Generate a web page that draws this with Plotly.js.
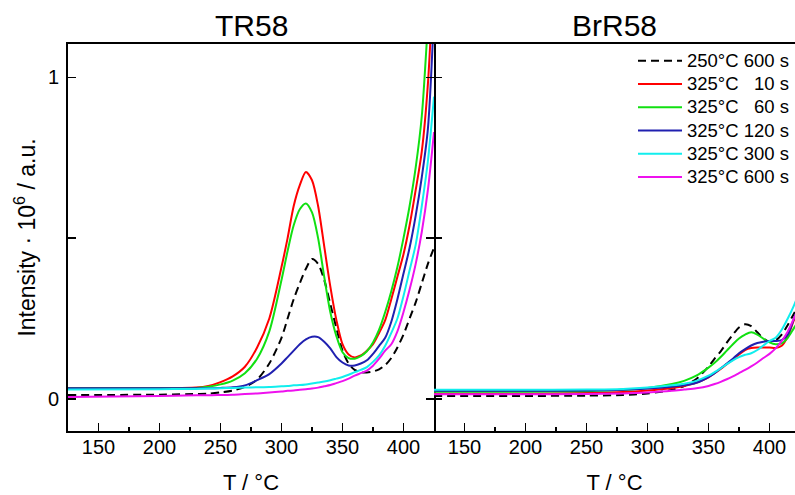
<!DOCTYPE html>
<html>
<head>
<meta charset="utf-8">
<script src="https://cdn.plot.ly/plotly-3.0.1.min.js"></script>
<style>html,body{margin:0;padding:0;background:#fff;}#chart{width:795px;height:495px;}</style>
</head>
<body>
<div id="chart"></div>
<script>
// ---- Data ----
var panelTitles = ['TR58', 'BrR58'];
var seriesNames = ['250°C 600 s', '325°C \u200710 s', '325°C \u200760 s', '325°C 120 s', '325°C 300 s', '325°C 600 s'];
var seriesColors = ['#000000', '#ff0000', '#11e011', '#2020b0', '#11eeee', '#ee11ee'];

// TR58 panel: temperature grid (°C) and intensities (10^6 a.u.)
var T_TR58 = [125,200,230,240,250,260,270,280,290,300,305,310,315,320,325,330,335,340,345,350,355,360,365,370,375,380,385,390,395,400,405,410,415,420,425];
var TR58_250_600 = [0.012,0.013,0.015,0.016,0.020,0.026,0.037,0.060,0.110,0.190,0.250,0.310,0.360,0.405,0.435,0.420,0.370,0.295,0.220,0.150,0.110,0.090,0.083,0.082,0.085,0.092,0.105,0.127,0.160,0.200,0.250,0.300,0.360,0.420,0.470];
var TR58_325_10  = [0.033,0.033,0.035,0.040,0.052,0.070,0.100,0.160,0.250,0.410,0.500,0.600,0.665,0.706,0.680,0.600,0.475,0.350,0.245,0.170,0.138,0.129,0.135,0.150,0.170,0.205,0.245,0.310,0.380,0.450,0.540,0.650,0.770,0.980,1.350];
var TR58_325_60  = [0.033,0.033,0.034,0.038,0.045,0.057,0.080,0.125,0.210,0.370,0.460,0.540,0.590,0.608,0.580,0.500,0.380,0.270,0.195,0.145,0.127,0.125,0.133,0.148,0.175,0.215,0.270,0.335,0.410,0.500,0.600,0.720,0.880,1.170,1.500];
var TR58_325_120 = [0.033,0.033,0.033,0.033,0.034,0.036,0.042,0.058,0.077,0.110,0.130,0.150,0.170,0.185,0.193,0.192,0.178,0.157,0.130,0.113,0.104,0.104,0.110,0.120,0.140,0.165,0.190,0.240,0.310,0.390,0.470,0.570,0.690,0.840,1.200];
var TR58_325_300 = [0.029,0.030,0.031,0.032,0.033,0.034,0.035,0.036,0.037,0.039,0.040,0.042,0.043,0.045,0.048,0.051,0.054,0.058,0.063,0.068,0.075,0.083,0.090,0.099,0.115,0.135,0.165,0.205,0.250,0.320,0.400,0.480,0.600,0.740,0.940];
var TR58_325_600 = [0.006,0.009,0.011,0.011,0.012,0.013,0.015,0.017,0.020,0.023,0.025,0.026,0.028,0.030,0.032,0.035,0.039,0.043,0.049,0.055,0.063,0.072,0.080,0.088,0.103,0.125,0.150,0.170,0.210,0.270,0.340,0.420,0.520,0.650,0.830];

// BrR58 panel
var T_BrR58 = [125,200,250,280,300,320,330,340,350,355,360,365,370,375,380,385,390,395,400,405,410,415,420,425];
var BrR58_250_600 = [0.009,0.009,0.010,0.012,0.017,0.028,0.040,0.062,0.100,0.125,0.148,0.175,0.200,0.222,0.232,0.226,0.207,0.188,0.178,0.182,0.200,0.230,0.265,0.300];
var BrR58_325_10  = [0.016,0.016,0.018,0.021,0.026,0.034,0.040,0.050,0.067,0.080,0.093,0.108,0.122,0.138,0.152,0.158,0.160,0.160,0.160,0.158,0.165,0.195,0.245,0.290];
var BrR58_325_60  = [0.022,0.022,0.024,0.028,0.034,0.046,0.056,0.072,0.097,0.112,0.130,0.150,0.170,0.188,0.200,0.207,0.200,0.187,0.176,0.170,0.173,0.190,0.220,0.250];
var BrR58_325_120 = [0.025,0.025,0.026,0.028,0.032,0.038,0.042,0.050,0.068,0.080,0.095,0.110,0.125,0.142,0.155,0.166,0.174,0.178,0.180,0.180,0.183,0.200,0.250,0.300];
var BrR58_325_300 = [0.028,0.028,0.029,0.031,0.035,0.042,0.047,0.056,0.072,0.083,0.095,0.108,0.120,0.130,0.137,0.142,0.152,0.166,0.180,0.190,0.215,0.250,0.290,0.340];
var BrR58_325_600 = [0.014,0.014,0.015,0.017,0.020,0.025,0.029,0.033,0.040,0.046,0.053,0.061,0.070,0.080,0.090,0.101,0.113,0.127,0.140,0.157,0.180,0.210,0.250,0.290];

var xTickVals = [150, 200, 250, 300, 350, 400];
var yTickVals = [0, 1];

// ---- Build traces ----
var leftSeries = [TR58_250_600, TR58_325_10, TR58_325_60, TR58_325_120, TR58_325_300, TR58_325_600];
var rightSeries = [BrR58_250_600, BrR58_325_10, BrR58_325_60, BrR58_325_120, BrR58_325_300, BrR58_325_600];
var traces = [];
function lineStyle(i) {
  return {color: seriesColors[i], width: 2, shape: 'spline', smoothing: 0.8, dash: i === 0 ? '8px,5px' : 'solid'};
}
leftSeries.forEach(function (ys, i) {
  traces.push({
    x: T_TR58, y: ys, xaxis: 'x', yaxis: 'y', type: 'scatter', mode: 'lines',
    name: '<span style="font-size:18.5px">' + seriesNames[i] + '</span>', showlegend: true,
    line: lineStyle(i), hoverinfo: 'skip'
  });
});
rightSeries.forEach(function (ys, i) {
  traces.push({
    x: T_BrR58, y: ys, xaxis: 'x2', yaxis: 'y2', type: 'scatter', mode: 'lines',
    name: seriesNames[i], showlegend: false,
    line: lineStyle(i), hoverinfo: 'skip'
  });
});

var W = 795, H = 495;
var splitX = 434 / W, leftX = 68 / W;
var fontFam = '"Liberation Sans", Arial, Helvetica, sans-serif';

function xAxis(dom, range, anchor) {
  return {
    domain: dom, range: range, anchor: anchor,
    tickvals: xTickVals, ticks: 'inside', ticklen: 8, tickwidth: 1.5, tickcolor: '#000',
    minor: {dtick: 25, tick0: 0, ticks: 'inside', ticklen: 4, tickwidth: 1.5, tickcolor: '#000', showgrid: false},
    showline: true, linewidth: 2, linecolor: '#000', mirror: true,
    showgrid: false, zeroline: false,
    tickfont: {size: 20, color: '#000', family: fontFam},
    ticklabelstandoff: -3,
    title: {text: 'T / °C', font: {size: 22, color: '#000', family: fontFam}, standoff: 25},
    automargin: false
  };
}

var layout = {
  width: W, height: H,
  margin: {l: 0, r: 0, t: 44, b: 64},
  paper_bgcolor: '#fff', plot_bgcolor: '#fff',
  font: {family: fontFam, color: '#000'},
  showlegend: true,
  legend: {
    x: 1, xanchor: 'right', y: 1.0, yanchor: 'top',
    bgcolor: 'rgba(0,0,0,0)', borderwidth: 0,
    font: {size: 15.6, color: '#000', family: fontFam},
    tracegroupgap: 0, itemwidth: 44, traceorder: 'normal'
  },
  xaxis: xAxis([leftX, splitX], [125, 425], 'y'),
  xaxis2: xAxis([splitX, 1], [125, 420.9], 'y2'),
  yaxis: {
    domain: [0, 1], range: [-0.1, 1.104], anchor: 'x',
    tickvals: yTickVals,
    minor: {dtick: 0.5, tick0: 0, ticks: 'inside', ticklen: 8, tickwidth: 1.5, tickcolor: '#000', showgrid: false},
    ticks: 'inside', ticklen: 8, tickwidth: 1.5, tickcolor: '#000',
    showline: true, linewidth: 2, linecolor: '#000', mirror: 'ticks',
    showgrid: false, zeroline: false,
    tickfont: {size: 20, color: '#000', family: fontFam},
    ticklabelstandoff: 3,
    title: {text: 'Intensity · 10<sup>6</sup> / a.u.', font: {size: 23, color: '#000', family: fontFam}, standoff: 6},
    automargin: false
  },
  yaxis2: {
    domain: [0, 1], range: [-0.1, 1.104], anchor: 'x2',
    tickvals: yTickVals, showticklabels: false,
    minor: {dtick: 0.5, tick0: 0, ticks: 'inside', ticklen: 8, tickwidth: 1.5, tickcolor: '#000', showgrid: false},
    ticks: 'inside', ticklen: 8, tickwidth: 1.5, tickcolor: '#000',
    showline: false, mirror: false,
    showgrid: false, zeroline: false
  },
  annotations: [
    {text: panelTitles[0], xref: 'paper', yref: 'paper', x: (leftX + splitX) / 2, y: 1 + 18 / 387,
     xanchor: 'center', yanchor: 'middle', showarrow: false, font: {size: 30, color: '#000', family: fontFam}},
    {text: panelTitles[1], xref: 'paper', yref: 'paper', x: (splitX + 1) / 2, y: 1 + 18 / 387,
     xanchor: 'center', yanchor: 'middle', showarrow: false, font: {size: 30, color: '#000', family: fontFam}}
  ]
};

Plotly.newPlot('chart', traces, layout, {displayModeBar: false, staticPlot: true});
</script>
</body>
</html>
